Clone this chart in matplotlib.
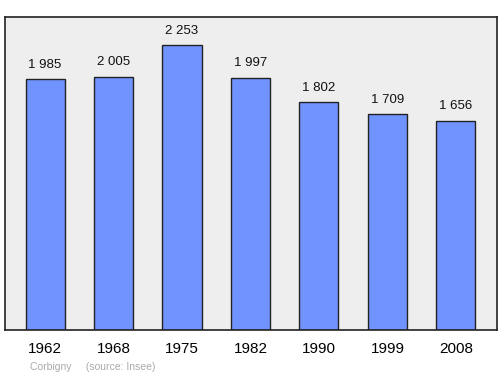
import matplotlib.pyplot as plt

plt.rcParams['font.family'] = ['Liberation Sans', 'DejaVu Sans']

# 人口資料
years = ['1962', '1968', '1975', '1982', '1990', '1999', '2008']
population = [1985, 2005, 2253, 1997, 1802, 1709, 1656]
value_labels = ['1 985', '2 005', '2 253', '1 997', '1 802', '1 709', '1 656']

fig = plt.figure(figsize=(5, 3.74), dpi=100)
ax = fig.add_axes([0.01, 0.118, 0.984, 0.837])
ax.set_facecolor('#eeeeee')

index = range(len(years))
bars = ax.bar(index, population, width=0.57, color='#7093ff',
              edgecolor='#222222', linewidth=1)

for i, (v, lab) in enumerate(zip(population, value_labels)):
    ax.annotate(lab, (i, v), xytext=(0, 6), textcoords='offset points',
                ha='center', va='bottom', fontsize=9.5, color='#111111')

ax.set_xlim(-0.585, 6.6)
ax.set_ylim(0, 2478)
ax.set_yticks([])
ax.set_xticks(list(index))
ax.set_xticklabels(years, fontsize=11)
ax.tick_params(axis='x', length=0, pad=9)
for s in ax.spines.values():
    s.set_color('#222222')
    s.set_linewidth(1.2)

fig.text(0.06, 0.012, 'Corbigny     (source: Insee)', fontsize=7.5, color='#aaaaaa')

plt.savefig('out.png', dpi=100)
plt.close()
